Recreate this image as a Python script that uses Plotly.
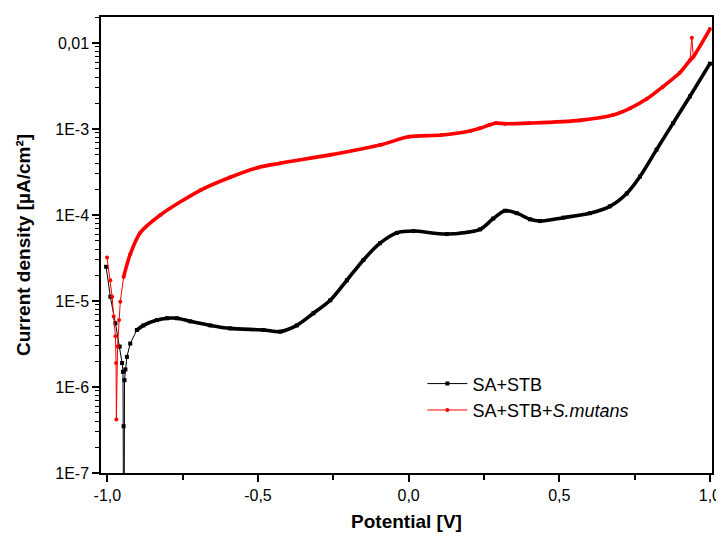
import plotly.graph_objects as go

# SA+STB (black)
pot_stb = [-1.004, -0.99, -0.973, -0.959, -0.951, -0.948, -0.946, -0.945, -0.943, -0.940, -0.935,
           -0.924, -0.902, -0.880, -0.835, -0.802, -0.769, -0.725, -0.658, -0.592, -0.482,
           -0.426, -0.371, -0.316, -0.260, -0.205, -0.150, -0.095, -0.039, 0.016, 0.127,
           0.237, 0.281, 0.320, 0.359, 0.403, 0.436, 0.513, 0.602, 0.668, 0.724, 0.768,
           0.823, 0.878, 0.934, 1.0]
cur_stb = [2.5e-5, 1.12e-5, 5.5e-6, 2.95e-6, 1.9e-6, 1.5e-6, 3.5e-7, 1e-9, 1.2e-6, 1.6e-6, 2.24e-6,
           3.2e-6, 4.6e-6, 5.2e-6, 6.0e-6, 6.3e-6, 6.3e-6, 5.8e-6, 5.2e-6, 4.8e-6, 4.6e-6,
           4.4e-6, 5.2e-6, 7.2e-6, 1.02e-5, 1.74e-5, 3.0e-5, 4.7e-5, 6.2e-5, 6.5e-5, 6.0e-5,
           6.8e-5, 9.1e-5, 1.12e-4, 1.05e-4, 8.9e-5, 8.5e-5, 9.3e-5, 1.05e-4, 1.26e-4, 1.78e-4, 2.8e-4,
           5.75e-4, 1.17e-3, 2.4e-3, 5.75e-3]

# SA+STB+S.mutans (red)
pot_sm = [-1.001, -0.99, -0.984, -0.979, -0.973, -0.971, -0.970, -0.966, -0.961, -0.957,
          -0.946, -0.924, -0.891, -0.824, -0.69, -0.592, -0.502, -0.426, -0.26, -0.095,
          0.0, 0.11, 0.204, 0.237, 0.27, 0.29, 0.32, 0.40, 0.569, 0.678, 0.735, 0.791,
          0.844, 0.900, 0.934, 0.940, 0.945, 1.0]
cur_sm = [3.2e-5, 1.74e-5, 1.12e-5, 6.6e-6, 3.9e-6, 1.9e-6, 4.2e-7, 2.95e-6, 6.0e-6, 9.8e-6,
          1.9e-5, 3.5e-5, 6.2e-5, 1.0e-4, 1.95e-4, 2.75e-4, 3.55e-4, 4.0e-4, 5.0e-4, 6.5e-4,
          8.1e-4, 8.5e-4, 9.5e-4, 1.02e-3, 1.12e-3, 1.17e-3, 1.15e-3, 1.17e-3, 1.26e-3, 1.45e-3, 1.74e-3, 2.24e-3,
          3.1e-3, 4.5e-3, 6.3e-3, 1.15e-2, 6.9e-3, 1.45e-2]

x_ticks = [-1.0, -0.5, 0.0, 0.5, 1.0]
x_labels = ["-1,0", "-0,5", "0,0", "0,5", "1,0"]
y_ticks = [1e-7, 1e-6, 1e-5, 1e-4, 1e-3, 1e-2]
y_labels = ["1E-7", "1E-6", "1E-5", "1E-4", "1E-3", "0,01"]

BLACK = "#000000"
RED = "#ff0000"

fig = go.Figure()

# thick smooth parts (dense measurement points appear as a thick band)
stb_start = 12
fig.add_trace(go.Scatter(x=pot_stb[stb_start:], y=cur_stb[stb_start:], mode="lines",
                         line=dict(color=BLACK, width=3.6, shape="spline", smoothing=0.8),
                         showlegend=False, hoverinfo="skip"))
sm_start = 10
spike = pot_sm.index(0.940)
sm_x = [v for i, v in enumerate(pot_sm) if i >= sm_start and i != spike]
sm_y = [v for i, v in enumerate(cur_sm) if i >= sm_start and i != spike]
fig.add_trace(go.Scatter(x=sm_x, y=sm_y, mode="lines",
                         line=dict(color=RED, width=3.6, shape="spline", smoothing=0.8),
                         showlegend=False, hoverinfo="skip"))

# full series with markers
fig.add_trace(go.Scatter(x=pot_stb, y=cur_stb, mode="lines+markers", name="SA+STB",
                         line=dict(color=BLACK, width=1),
                         marker=dict(symbol="square", size=4, color=BLACK)))
fig.add_trace(go.Scatter(x=pot_sm, y=cur_sm, mode="lines+markers", name="SA+STB+<i>S.mutans</i>",
                         line=dict(color=RED, width=1),
                         marker=dict(symbol="circle", size=4, color=RED)))

minor_y = [m * 10 ** e for e in range(-7, -1) for m in range(2, 10)]

fig.update_layout(
    width=716, height=532,
    margin=dict(l=93, r=12, t=9, b=67),
    paper_bgcolor="white", plot_bgcolor="white",
    font=dict(family="Liberation Sans, Arial, sans-serif", size=16, color="black"),
    showlegend=True,
    legend=dict(x=0.526, y=0.236, xanchor="left", yanchor="top",
                bgcolor="rgba(0,0,0,0)", font=dict(size=18), tracegroupgap=0,
                itemwidth=40),
    xaxis=dict(
        range=[-1.021, 1.007], tickmode="array", tickvals=x_ticks, ticktext=x_labels,
        automargin=False,
        showgrid=False, zeroline=False, showline=True, linecolor="black", linewidth=1.5,
        mirror=True, ticks="outside", ticklen=7, tickwidth=1.5, tickcolor="black",
        minor=dict(tickmode="array", tickvals=[-0.75, -0.25, 0.25, 0.75], ticks="outside",
                   ticklen=5, tickwidth=1.5, tickcolor="black", showgrid=False),
        title=dict(text="<b>Potential [V]</b>", standoff=12,
                   font=dict(family="Liberation Sans Narrow, Liberation Sans, Arial", size=19)),
    ),
    yaxis=dict(
        type="log", range=[-7, -1.698], tickmode="array", tickvals=y_ticks, ticktext=y_labels,
        automargin=False,
        showgrid=False, zeroline=False, showline=True, linecolor="black", linewidth=1.5,
        mirror=True, ticks="outside", ticklen=7, tickwidth=1.5, tickcolor="black",
        minor=dict(tickmode="array", tickvals=minor_y, ticks="outside",
                   ticklen=4, tickwidth=1, tickcolor="black", showgrid=False),
        title=dict(text="<b>Current density [µA/cm²]</b>", standoff=20,
                   font=dict(family="Liberation Sans Narrow, Liberation Sans, Arial", size=19)),
    ),
)

fig.write_html("out.html")
